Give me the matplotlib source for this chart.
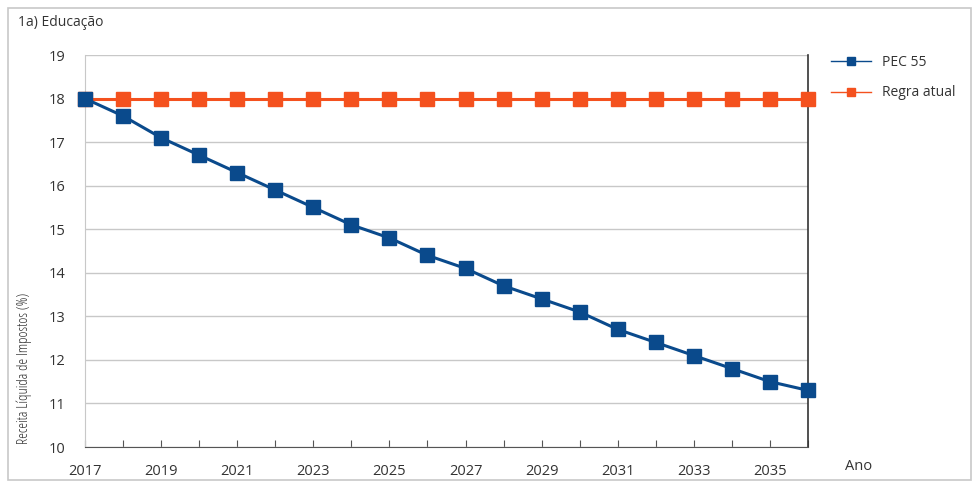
import matplotlib
matplotlib.use("Agg")
import matplotlib.pyplot as plt
from matplotlib.patches import Rectangle

plt.rcParams['font.family'] = ['Open Sans', 'DejaVu Sans']

years = list(range(2017, 2037))
pec55 = [18.0, 17.6, 17.1, 16.7, 16.3, 15.9, 15.5, 15.1, 14.8, 14.4,
         14.1, 13.7, 13.4, 13.1, 12.7, 12.4, 12.1, 11.8, 11.5, 11.3]
regra_atual = [18.0] * 20
yticks = [10, 11, 12, 13, 14, 15, 16, 17, 18, 19]
xlabel_years = list(range(2017, 2036, 2))

blue = '#0a4a8c'
orange = '#f4511e'

fig = plt.figure(figsize=(9.79, 4.88), dpi=100)
fig.patches.append(Rectangle((8/979, 1-480/488), (971-8)/979, (480-8)/488,
                             transform=fig.transFigure, fill=False,
                             edgecolor='#c8c8c8', linewidth=1.2))
ax = fig.add_axes([85/979, 1-447/488, (808-85)/979, (447-55)/488])

ax.plot(years, regra_atual, color=orange, lw=2.2, marker='s', ms=10,
        label='Regra atual', clip_on=False, zorder=3)
ax.plot(years, pec55, color=blue, lw=2.2, marker='s', ms=10,
        label='PEC 55', clip_on=False, zorder=4)

ax.set_xlim(2017, 2036)
ax.set_ylim(10, 19)
ax.set_yticks(yticks)
ax.set_yticklabels([str(v) for v in yticks])
ax.set_xticks(years)
ax.set_xticklabels([str(y) if y in xlabel_years else '' for y in years])
ax.tick_params(axis='x', direction='in', length=5, color='#555555',
               pad=12, labelsize=10.5, labelcolor='#333333')
ax.tick_params(axis='y', length=0, pad=14, labelsize=10.5, labelcolor='#333333')
ax.yaxis.grid(True, color='#c8c8c8', lw=1)
ax.set_axisbelow(True)
ax.spines['top'].set_visible(False)
ax.spines['left'].set_color('#c8c8c8')
ax.spines['bottom'].set_color('#555555')
ax.spines['right'].set_color('#333333')
ax.spines['right'].set_linewidth(1.2)

fig.text(18/979, 1-22/488, '1a) Educação', fontsize=10, color='#333333',
         va='center', ha='left')
fig.text(845/979, 1-467/488, 'Ano', fontsize=10.5, color='#333333',
         va='center', ha='left')
fig.text(24/979, 1-368/488, 'Receita Líquida de Impostos (%)', fontsize=10.5,
         rotation=90, va='center', ha='center', color='#333333',
         fontstretch='condensed')

h, l = ax.get_legend_handles_labels()
leg = fig.legend([h[1], h[0]], [l[1], l[0]], loc='upper left',
                 bbox_to_anchor=(818/979, 1-42/488), frameon=False,
                 fontsize=10, handlelength=2.9, labelspacing=1.15,
                 markerscale=0.6)
for line in leg.get_lines():
    line.set_linewidth(1)
for t in leg.get_texts():
    t.set_color('#333333')

fig.savefig('out.png', dpi=100)
